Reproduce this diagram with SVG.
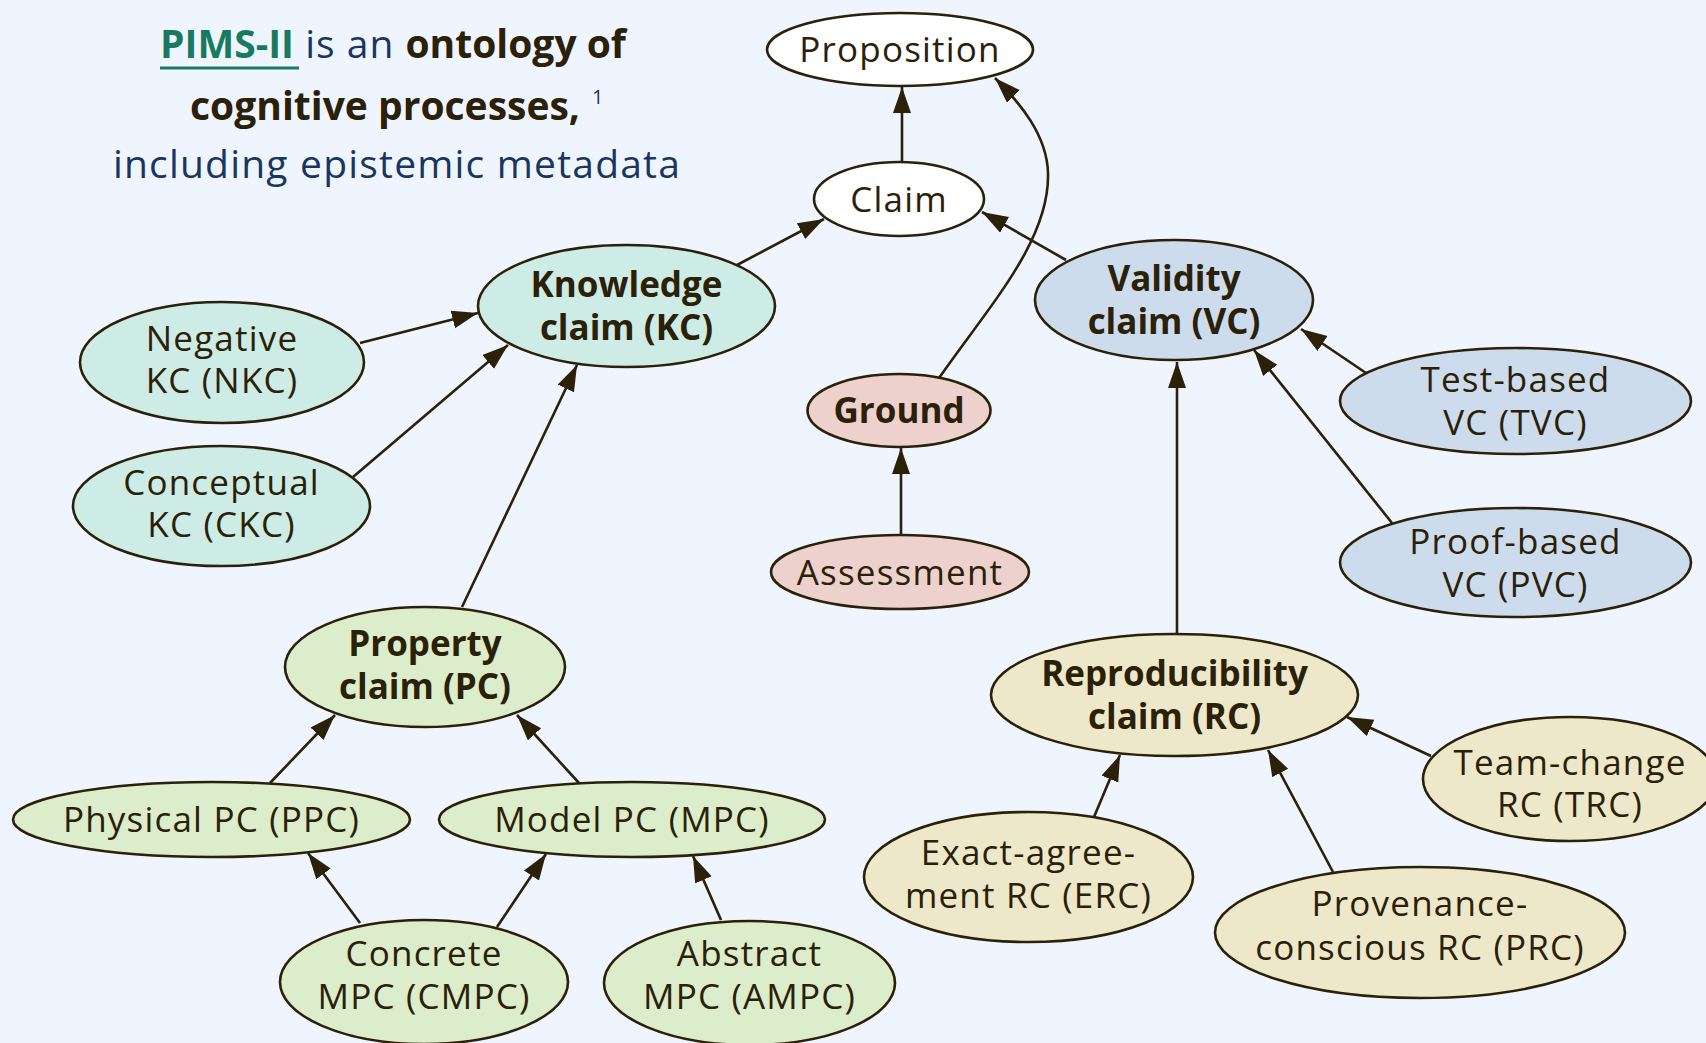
<svg xmlns="http://www.w3.org/2000/svg" width="1706" height="1043" viewBox="0 0 1706 1043">
<style>
.n{stroke:#2b2008;stroke-width:2.6}
.t{font-family:"Open Sans","Noto Sans",sans-serif;font-size:35px;fill:#2b2008;text-anchor:middle;letter-spacing:1.2px}
.b{font-weight:700;letter-spacing:0}
.e{fill:none;stroke:#2b2008;stroke-width:2.6;marker-end:url(#ah)}
.w{fill:#ffffff}.kc{fill:#cdece5}.vc{fill:#cddcec}.gr{fill:#edd1cc}.rc{fill:#eee8ca}.pc{fill:#dbedcb}
.h{font-family:"Open Sans","Noto Sans",sans-serif;font-size:39px}
</style>
<defs>
<marker id="ah" markerUnits="userSpaceOnUse" markerWidth="28" markerHeight="20" refX="26" refY="9" orient="auto">
<path d="M0,0 L26,9 L0,18 z" fill="#2b2008"/>
</marker>
</defs>
<rect width="1706" height="1043" fill="#eff5fe"/>
<g id="title">
<text class="h" x="160" y="58"><tspan fill="#1a7a60" font-weight="700">PIMS-II</tspan><tspan fill="#1a3560" letter-spacing="1"> is an </tspan><tspan fill="#2b2008" font-weight="700">ontology of</tspan></text>
<line x1="160" y1="68" x2="299" y2="68" stroke="#1a7a60" stroke-width="3"/>
<text class="h" x="385" y="120" fill="#2b2008" font-weight="700" text-anchor="middle">cognitive processes,</text>
<text x="592" y="104" font-family="'Open Sans',sans-serif" font-size="20" fill="#1a3560">1</text>
<text class="h" x="397" y="178" fill="#1a3560" text-anchor="middle" letter-spacing="1.2">including epistemic metadata</text>
</g>
<g id="edges">
<path class="e" d="M902,162 L902,87"/>
<path class="e" d="M737,265 L824,219"/>
<path class="e" d="M1066,260 L982,212"/>
<path class="e" d="M939,378 C990,305 1050,240 1048,173 C1047,135 1020,103 995,78"/>
<path class="e" d="M360,343 L478,313"/>
<path class="e" d="M353,477 L508,345"/>
<path class="e" d="M462,607 L577,365"/>
<path class="e" d="M901,535 L901,448"/>
<path class="e" d="M1366,373 L1301,329"/>
<path class="e" d="M1392,523 L1254,350"/>
<path class="e" d="M1177,634 L1177,362"/>
<path class="e" d="M1431,756 L1347,717"/>
<path class="e" d="M1094,817 L1120,755"/>
<path class="e" d="M1333,872 L1268,750"/>
<path class="e" d="M270,783 L335,715"/>
<path class="e" d="M579,783 L517,715"/>
<path class="e" d="M360,923 L308,853"/>
<path class="e" d="M497,927 L546,854"/>
<path class="e" d="M721,920 L693,856"/>
</g>
<g id="proposition"><ellipse class="n w" cx="900" cy="49.5" rx="133" ry="36.5"/><text class="t" x="900" y="62">Proposition</text></g>
<g id="claim"><ellipse class="n w" cx="899" cy="199" rx="85" ry="37"/><text class="t" x="899" y="212">Claim</text></g>
<g id="kc"><ellipse class="n kc" cx="626.5" cy="306" rx="148.5" ry="61"/><text class="t b" x="626.5" y="297">Knowledge</text><text class="t b" x="626.5" y="340">claim (KC)</text></g>
<g id="vc"><ellipse class="n vc" cx="1174" cy="300" rx="139" ry="60"/><text class="t b" x="1174" y="291">Validity</text><text class="t b" x="1174" y="334">claim (VC)</text></g>
<g id="ground"><ellipse class="n gr" cx="899" cy="410.5" rx="91.5" ry="36.5"/><text class="t b" x="899" y="423">Ground</text></g>
<g id="assessment"><ellipse class="n gr" cx="900" cy="572" rx="129" ry="37"/><text class="t" x="900" y="585">Assessment</text></g>
<g id="nkc"><ellipse class="n kc" cx="222" cy="362.5" rx="142" ry="60.5"/><text class="t" x="222" y="351">Negative</text><text class="t" x="222" y="393">KC (NKC)</text></g>
<g id="ckc"><ellipse class="n kc" cx="221.5" cy="506" rx="148.5" ry="60"/><text class="t" x="221.5" y="495">Conceptual</text><text class="t" x="221.5" y="537">KC (CKC)</text></g>
<g id="pc"><ellipse class="n pc" cx="425" cy="667" rx="140" ry="60"/><text class="t b" x="425" y="656">Property</text><text class="t b" x="425" y="699">claim (PC)</text></g>
<g id="ppc"><ellipse class="n pc" cx="211.5" cy="819.5" rx="198.5" ry="37.5"/><text class="t" x="211.5" y="832">Physical PC (PPC)</text></g>
<g id="mpc"><ellipse class="n pc" cx="632" cy="819.5" rx="193" ry="37.5"/><text class="t" x="632" y="832">Model PC (MPC)</text></g>
<g id="cmpc"><ellipse class="n pc" cx="424" cy="982" rx="144" ry="62"/><text class="t" x="424" y="966">Concrete</text><text class="t" x="424" y="1009">MPC (CMPC)</text></g>
<g id="ampc"><ellipse class="n pc" cx="749.5" cy="983" rx="145.5" ry="62"/><text class="t" x="749.5" y="966">Abstract</text><text class="t" x="749.5" y="1009">MPC (AMPC)</text></g>
<g id="tvc"><ellipse class="n vc" cx="1515.5" cy="401" rx="175.5" ry="53"/><text class="t" x="1515.5" y="392">Test-based</text><text class="t" x="1515.5" y="435">VC (TVC)</text></g>
<g id="pvc"><ellipse class="n vc" cx="1515.5" cy="562.5" rx="175.5" ry="54.5"/><text class="t" x="1515.5" y="554">Proof-based</text><text class="t" x="1515.5" y="597">VC (PVC)</text></g>
<g id="rc"><ellipse class="n rc" cx="1174.5" cy="695" rx="183.5" ry="61"/><text class="t b" x="1174.5" y="686">Reproducibility</text><text class="t b" x="1174.5" y="729">claim (RC)</text></g>
<g id="trc"><ellipse class="n rc" cx="1570" cy="779" rx="147" ry="62"/><text class="t" x="1570" y="775">Team-change</text><text class="t" x="1570" y="817">RC (TRC)</text></g>
<g id="erc"><ellipse class="n rc" cx="1028.5" cy="877" rx="164.5" ry="65"/><text class="t" x="1028.5" y="865">Exact-agree-</text><text class="t" x="1028.5" y="908">ment RC (ERC)</text></g>
<g id="prc"><ellipse class="n rc" cx="1420" cy="932.5" rx="205" ry="65.5"/><text class="t" x="1420" y="916">Provenance-</text><text class="t" x="1420" y="960">conscious RC (PRC)</text></g>
</svg>
